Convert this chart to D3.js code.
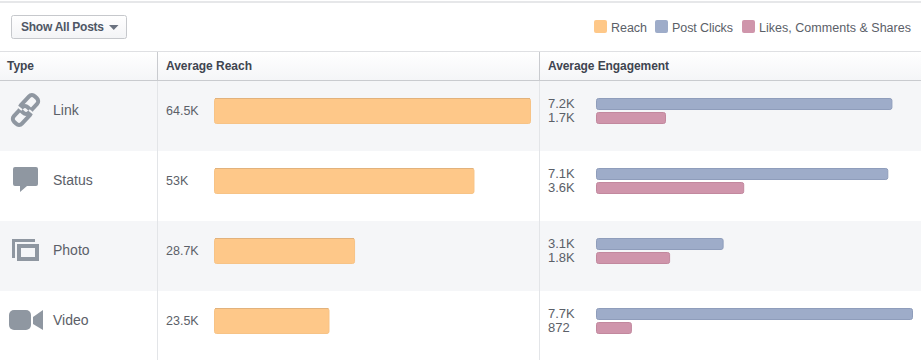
<!DOCTYPE html>
<html>
<head>
<meta charset="utf-8">
<script src="https://cdn.jsdelivr.net/npm/d3@7"></script>
<style>
html, body { margin: 0; padding: 0; background: #fff; overflow: hidden; }
svg { display: block; font-family: "Liberation Sans", Arial, sans-serif; }
</style>
</head>
<body>
<div id="chart"></div>
<script>
const types = ["Link", "Status", "Photo", "Video"];
const reach = [64.5, 53, 28.7, 23.5];
const reachLabels = ["64.5K", "53K", "28.7K", "23.5K"];
const postClicks = [7.2, 7.1, 3.1, 7.7];
const postClickLabels = ["7.2K", "7.1K", "3.1K", "7.7K"];
const likes = [1.7, 3.6, 1.8, 0.872];
const likeLabels = ["1.7K", "3.6K", "1.8K", "872"];
const legendNames = ["Reach", "Post Clicks", "Likes, Comments & Shares"];
const columnNames = ["Type", "Average Reach", "Average Engagement"];

const width = 921, height = 360;
const colors = { reach: "#fec889", clicks: "#9eacc9", likes: "#cf95ab" };
const borders = { reach: "#f7c386", clicks: "#8f9dbb", likes: "#c2889e" };
const textCol = "#5b6068", iconCol = "#8f97a1", lineCol = "#e3e5e8";

const svg = d3.select("#chart").append("svg").attr("width", width).attr("height", height);

const rowY = d3.scaleBand().domain(types).range([81, 361]);
const xReach = d3.scaleLinear().domain([0, 64.5]).range([214, 531]);
const xEng = d3.scaleLinear().domain([0, 7.7]).range([596, 913]);

// top strip
svg.append("rect").attr("width", width).attr("height", 2).attr("y", 1).attr("fill", "#e6e7e9");

// dropdown button
const defs = svg.append("defs");
const btnGrad = defs.append("linearGradient").attr("id", "btnGrad").attr("x1", 0).attr("x2", 0).attr("y1", 0).attr("y2", 1);
btnGrad.append("stop").attr("offset", 0).attr("stop-color", "#ffffff");
btnGrad.append("stop").attr("offset", 1).attr("stop-color", "#f3f4f6");
const headGrad = defs.append("linearGradient").attr("id", "headGrad").attr("x1", 0).attr("x2", 0).attr("y1", 0).attr("y2", 1);
headGrad.append("stop").attr("offset", 0).attr("stop-color", "#ffffff");
headGrad.append("stop").attr("offset", 1).attr("stop-color", "#f4f5f7");

svg.append("rect").attr("x", 11.5).attr("y", 15.5).attr("width", 115).attr("height", 23).attr("rx", 2)
    .attr("fill", "url(#btnGrad)").attr("stroke", "#c6c8cc");
svg.append("text").attr("x", 21).attr("y", 31).attr("font-size", 12).attr("font-weight", "bold")
    .attr("fill", "#4e5665").attr("textLength", 83).text("Show All Posts");
svg.append("path").attr("d", "M109 25h9.5l-4.75 5z").attr("fill", "#6b7280");

// legend
const legendItems = [
    { x: 594, tx: 611, col: colors.reach },
    { x: 655, tx: 672, col: colors.clicks },
    { x: 742, tx: 759, col: colors.likes }
];
legendItems.forEach((d, i) => {
    svg.append("rect").attr("x", d.x).attr("y", 20).attr("width", 13).attr("height", 13).attr("rx", 2).attr("fill", d.col);
    svg.append("text").attr("x", d.tx).attr("y", 32).attr("font-size", 12.5).attr("fill", textCol)
        .attr("textLength", i == 0 ? 36 : i == 1 ? 61 : 152).text(legendNames[i]);
});

// header row
svg.append("rect").attr("y", 52).attr("width", width).attr("height", 29).attr("fill", "url(#headGrad)");
svg.append("line").attr("x1", 0).attr("x2", width).attr("y1", 51.5).attr("y2", 51.5).attr("stroke", "#dfe0e3");
svg.append("line").attr("x1", 0).attr("x2", width).attr("y1", 80.5).attr("y2", 80.5).attr("stroke", "#c9cbcf");
[7, 166, 548].forEach((x, i) => {
    svg.append("text").attr("x", x).attr("y", 70).attr("font-size", 12).attr("font-weight", "bold")
        .attr("fill", "#3f4550").attr("textLength", [27, 86, 121][i]).text(columnNames[i]);
});

// row backgrounds
svg.selectAll("rect.row").data(types).enter().append("rect")
    .attr("class", "row")
    .attr("y", d => rowY(d))
    .attr("width", width)
    .attr("height", rowY.bandwidth())
    .attr("fill", (d, i) => i % 2 == 0 ? "#f5f6f8" : "#ffffff");

// column dividers
[157.5, 539.5].forEach(x => {
    svg.append("line").attr("x1", x).attr("x2", x).attr("y1", 52).attr("y2", 81).attr("stroke", "#c9cbcf");
    svg.append("line").attr("x1", x).attr("x2", x).attr("y1", 81).attr("y2", height).attr("stroke", lineCol);
});

// icons
const icons = {
    Link: g => {
        const link = (cx, cy) => g.append("rect")
            .attr("x", -10).attr("y", -5.5).attr("width", 20).attr("height", 11).attr("rx", 4)
            .attr("fill", "none").attr("stroke", iconCol).attr("stroke-width", 4)
            .attr("transform", `translate(${cx},${cy}) rotate(-47)`);
        link(22, 115.5);
        link(29, 104.5);
        // break the chain where the links cross
        g.append("path").attr("d", "M17 106l5 4").attr("stroke", "#f5f6f8").attr("stroke-width", 2);
        g.append("path").attr("d", "M29 110l5 4").attr("stroke", "#f5f6f8").attr("stroke-width", 2);
    },
    Status: g => {
        g.append("path").attr("fill", iconCol)
            .attr("d", "M15 167h21a2 2 0 0 1 2 2v15a2 2 0 0 1-2 2h-9l-7 6v-6h-5a2 2 0 0 1-2-2v-15a2 2 0 0 1 2-2z");
    },
    Photo: g => {
        g.append("path").attr("fill", iconCol)
            .attr("d", "M12 239h23v3h-20v16h-3z");
        g.append("path").attr("fill", iconCol).attr("fill-rule", "evenodd")
            .attr("d", "M17 244h22v17h-22zM21 248v9h14v-9z");
    },
    Video: g => {
        g.append("rect").attr("x", 9).attr("y", 310).attr("width", 22).attr("height", 20).attr("rx", 5).attr("fill", iconCol);
        g.append("path").attr("fill", iconCol).attr("d", "M33 317l10-7v20l-10-6z");
    }
};
types.forEach(t => icons[t](svg.append("g")));

// type labels
svg.selectAll("text.type").data(types).enter().append("text")
    .attr("class", "type")
    .attr("x", 53)
    .attr("y", d => rowY(d) + 34)
    .attr("font-size", 14)
    .attr("fill", textCol)
    .text(d => d);

// reach
svg.selectAll("text.reach").data(reachLabels).enter().append("text")
    .attr("class", "reach")
    .attr("x", 166)
    .attr("y", (d, i) => rowY(types[i]) + 34)
    .attr("font-size", 12.5)
    .attr("fill", textCol)
    .text(d => d);

svg.selectAll("rect.reach").data(reach).enter().append("rect")
    .attr("class", "reach")
    .attr("x", xReach(0) + 0.5)
    .attr("y", (d, i) => rowY(types[i]) + 17.5)
    .attr("width", d => xReach(d) - xReach(0) - 1)
    .attr("height", 25)
    .attr("rx", 2)
    .attr("fill", colors.reach)
    .attr("stroke", borders.reach);

// darker top edge on the reach bars
svg.selectAll("rect.reachtop").data(reach).enter().append("rect")
    .attr("class", "reachtop")
    .attr("x", xReach(0) + 1)
    .attr("y", (d, i) => rowY(types[i]) + 17)
    .attr("width", d => xReach(d) - xReach(0) - 2)
    .attr("height", 1)
    .attr("fill", "#e2b27c");

// engagement
function engagement(cls, values, labels, offset, key) {
    svg.selectAll("text." + cls).data(labels).enter().append("text")
        .attr("class", cls)
        .attr("x", 548)
        .attr("y", (d, i) => rowY(types[i]) + offset + 10)
        .attr("font-size", 13)
        .attr("fill", textCol)
        .text(d => d);

    svg.selectAll("rect." + cls).data(values).enter().append("rect")
        .attr("class", cls)
        .attr("x", xEng(0) + 0.5)
        .attr("y", (d, i) => rowY(types[i]) + offset + 0.5)
        .attr("width", d => xEng(d) - xEng(0) - 1)
        .attr("height", 11)
        .attr("rx", 2)
        .attr("fill", colors[key])
        .attr("stroke", borders[key]);
}
engagement("clicks", postClicks, postClickLabels, 17, "clicks");
engagement("likes", likes, likeLabels, 31, "likes");
</script>
</body>
</html>
